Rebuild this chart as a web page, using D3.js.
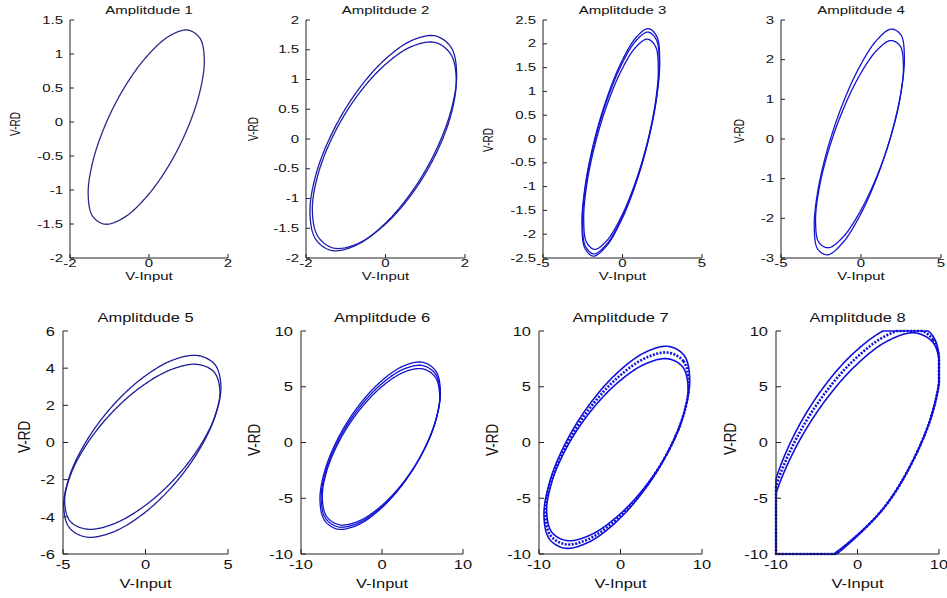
<!DOCTYPE html>
<html><head><meta charset="utf-8">
<script src="https://cdn.jsdelivr.net/npm/d3@7"></script>
<style>body{margin:0;background:#fff}svg text{font-family:"Liberation Sans",Arial,sans-serif;fill:#111}</style>
</head><body><svg id="c" width="947" height="598"></svg>
<script>
// ---------------- DATA ----------------
const titles = ["Amplitdude 1","Amplitdude 2","Amplitdude 3","Amplitdude 4","Amplitdude 5","Amplitdude 6","Amplitdude 7","Amplitdude 8"];
const xLabel = "V-Input";
const yLabel = "V-RD";
const xDomains = [[-2,2],[-2,2],[-5,5],[-5,5],[-5,5],[-10,10],[-10,10],[-10,10]];
const yDomains = [[-2,1.5],[-2,2],[-2.5,2.5],[-3,3],[-6,6],[-10,10],[-10,10],[-10,10]];
const xTickVals = [[-2,0,2],[-2,0,2],[-5,0,5],[-5,0,5],[-5,0,5],[-10,0,10],[-10,0,10],[-10,0,10]];
const yTickVals = [
  [-2,-1.5,-1,-0.5,0,0.5,1,1.5],
  [-2,-1.5,-1,-0.5,0,0.5,1,1.5,2],
  [-2.5,-2,-1.5,-1,-0.5,0,0.5,1,1.5,2,2.5],
  [-3,-2,-1,0,1,2,3],
  [-6,-4,-2,0,2,4,6],
  [-10,-5,0,5,10],
  [-10,-5,0,5,10],
  [-10,-5,0,5,10]
];

// loops: [V-Input, V-RD] points read around each hysteresis loop
const amp1Loop = [[1.40,0.915],[1.288,1.234],[0.969,1.353],[0.493,1.256],[-0.07,0.955],[-0.633,0.498],[-1.109,-0.047],[-1.428,-0.596],[-1.54,-1.065],[-1.428,-1.384],[-1.109,-1.503],[-0.633,-1.406],[-0.07,-1.105],[0.493,-0.648],[0.969,-0.103],[1.288,0.446]];

const amp2Outer = [[1.79,1.10],[1.65,1.54],[1.249,1.733],[0.652,1.653],[-0.055,1.31],[-0.762,0.757],[-1.359,0.079],[-1.76,-0.622],[-1.90,-1.24],[-1.76,-1.68],[-1.359,-1.873],[-0.762,-1.793],[-0.055,-1.45],[0.652,-0.897],[1.249,-0.219],[1.65,0.482]];
const amp2Inner = [[1.78,0.995],[1.642,1.425],[1.25,1.622],[0.663,1.556],[-0.03,1.237],[-0.723,0.714],[-1.31,0.066],[-1.702,-0.607],[-1.84,-1.205],[-1.702,-1.635],[-1.31,-1.832],[-0.723,-1.766],[-0.03,-1.447],[0.663,-0.924],[1.25,-0.276],[1.642,0.397]];

const amp3Outer = [[2.34,1.65],[2.154,2.155],[1.624,2.32],[0.831,2.123],[-0.105,1.59],[-1.041,0.805],[-1.834,-0.112],[-2.364,-1.023],[-2.55,-1.79],[-2.364,-2.295],[-1.834,-2.46],[-1.041,-2.263],[-0.105,-1.73],[0.831,-0.945],[1.624,-0.028],[2.154,0.883]];
const amp3Middle = [[2.31,1.593],[2.127,2.086],[1.604,2.246],[0.822,2.054],[-0.102,1.535],[-1.025,0.769],[-1.807,-0.124],[-2.33,-1.012],[-2.513,-1.76],[-2.33,-2.252],[-1.807,-2.413],[-1.025,-2.221],[-0.102,-1.701],[0.822,-0.936],[1.604,-0.042],[2.127,0.846]];
const amp3Inner = [[2.25,1.48],[2.072,1.947],[1.563,2.099],[0.803,1.916],[-0.095,1.424],[-0.993,0.698],[-1.753,-0.149],[-2.262,-0.991],[-2.44,-1.70],[-2.262,-2.167],[-1.753,-2.319],[-0.993,-2.136],[-0.095,-1.644],[0.803,-0.918],[1.563,-0.071],[2.072,0.771]];

const amp4Outer = [[2.71,2.065],[2.496,2.624],[1.885,2.77],[0.973,2.486],[-0.105,1.809],[-1.183,0.846],[-2.095,-0.256],[-2.706,-1.33],[-2.92,-2.215],[-2.706,-2.774],[-2.095,-2.92],[-1.183,-2.636],[-0.105,-1.959],[0.973,-0.996],[1.885,0.106],[2.496,1.18]];
const amp4Inner = [[2.65,1.835],[2.441,2.348],[1.846,2.481],[0.956,2.221],[-0.095,1.599],[-1.146,0.715],[-2.036,-0.297],[-2.631,-1.284],[-2.84,-2.095],[-2.631,-2.608],[-2.036,-2.741],[-1.146,-2.481],[-0.095,-1.859],[0.956,-0.975],[1.846,0.037],[2.441,1.024]];

const amp5Outer = [[4.57,3.033],[4.208,4.193],[3.174,4.679],[1.63,4.427],[-0.195,3.466],[-2.02,1.947],[-3.564,0.101],[-4.598,-1.791],[-4.96,-3.443],[-4.598,-4.603],[-3.564,-5.089],[-2.02,-4.837],[-0.195,-3.876],[1.63,-2.357],[3.174,-0.511],[4.208,1.381]];
const amp5Inner = [[4.51,2.77],[4.152,3.796],[3.131,4.205],[1.607,3.943],[-0.195,3.043],[-1.997,1.645],[-3.521,-0.037],[-4.542,-1.748],[-4.90,-3.23],[-4.542,-4.256],[-3.521,-4.665],[-1.997,-4.403],[-0.195,-3.503],[1.607,-2.105],[3.131,-0.423],[4.152,1.288]];

const amp6Outer = [[7.21,4.593],[6.645,6.406],[5.032,7.196],[2.623,6.853],[-0.225,5.418],[-3.073,3.117],[-5.482,0.298],[-7.095,-2.608],[-7.66,-5.163],[-7.095,-6.976],[-5.482,-7.766],[-3.073,-7.423],[-0.225,-5.988],[2.623,-3.687],[5.032,-0.868],[6.645,2.038]];
const amp6Middle = [[7.165,4.384],[6.607,6.138],[5.015,6.902],[2.637,6.57],[-0.175,5.182],[-2.987,2.956],[-5.365,0.229],[-6.957,-2.582],[-7.515,-5.054],[-6.957,-6.808],[-5.365,-7.572],[-2.987,-7.24],[-0.175,-5.852],[2.637,-3.626],[5.015,-0.899],[6.607,1.912]];
const amp6Inner = [[7.12,4.175],[6.569,5.87],[4.997,6.608],[2.65,6.287],[-0.125,4.946],[-2.90,2.795],[-5.247,0.16],[-6.819,-2.556],[-7.37,-4.945],[-6.819,-6.64],[-5.247,-7.378],[-2.90,-7.057],[-0.125,-5.716],[2.65,-3.565],[4.997,-0.93],[6.569,1.786]];

const amp7Outer = [[8.49,5.731],[7.811,7.807],[5.871,8.621],[2.974,8.066],[-0.45,6.211],[-3.874,3.346],[-6.771,-0.091],[-8.711,-3.579],[-9.39,-6.591],[-8.711,-8.667],[-6.771,-9.481],[-3.874,-8.926],[-0.45,-7.071],[2.974,-4.206],[5.871,-0.769],[7.811,2.719]];
const amp7Middle = [[8.39,5.319],[7.721,7.292],[5.81,8.066],[2.956,7.539],[-0.418,5.776],[-3.791,3.053],[-6.645,-0.215],[-8.556,-3.531],[-9.225,-6.394],[-8.556,-8.367],[-6.645,-9.141],[-3.791,-8.614],[-0.418,-6.851],[2.956,-4.128],[5.81,-0.86],[7.721,2.456]];
const amp7Inner = [[8.29,4.907],[7.631,6.777],[5.748,7.511],[2.938,7.011],[-0.385,5.34],[-3.708,2.759],[-6.518,-0.339],[-8.401,-3.483],[-9.06,-6.197],[-8.401,-8.067],[-6.518,-8.801],[-3.708,-8.301],[-0.385,-6.63],[2.938,-4.049],[5.748,-0.951],[7.631,2.193]];

// amplitude 8 overdrives the ±10 V range: values beyond it saturate at the limit
const amp8Outer = [[10.1,6.8],[9.294,9.501],[6.994,10.671],[3.56,10.15],[-0.5,8.0],[-4.56,4.558],[-7.994,0.349],[-10.294,-3.989],[-11.1,-7.8],[-10.294,-10.501],[-7.994,-11.671],[-4.56,-10.75],[-0.5,-8.6],[3.56,-5.558],[6.994,-1.349],[9.294,2.989]];
const amp8Middle = [[10.1,6.648],[9.294,9.22],[6.994,10.251],[3.56,9.602],[-0.5,7.354],[-4.56,3.858],[-7.994,-0.351],[-10.294,-4.636],[-11.1,-8.348],[-10.294,-10.92],[-7.994,-11.951],[-4.56,-10.9],[-0.5,-8.65],[3.56,-5.558],[6.994,-1.349],[9.294,2.936]];
const amp8Inner = [[10.1,6.496],[9.294,8.939],[6.994,9.831],[3.56,9.054],[-0.5,6.707],[-4.56,3.158],[-7.994,-1.051],[-10.294,-5.283],[-11.1,-8.896],[-10.294,-11.339],[-7.994,-12.231],[-4.56,-11.05],[-0.5,-8.7],[3.56,-5.558],[6.994,-1.349],[9.294,2.883]];

const loopsByPanel = [
  [amp1Loop],
  [amp2Outer, amp2Inner],
  [amp3Outer, amp3Middle, amp3Inner],
  [amp4Outer, amp4Inner],
  [amp5Outer, amp5Inner],
  [amp6Outer, amp6Middle, amp6Inner],
  [amp7Outer, amp7Middle, amp7Inner],
  [amp8Outer, amp8Middle, amp8Inner]
];

// ---------------- LAYOUT ----------------
const layout = [
  {x0:70, x1:228, y0:20, y1:258, row:0, ylx:15,  yly:124, color:"#2a2a86"},
  {x0:306,x1:465, y0:20, y1:258, row:0, ylx:253, yly:129, color:"#1c1caa"},
  {x0:543,x1:702, y0:20, y1:258, row:0, ylx:488, yly:140, color:"#1414d0"},
  {x0:781,x1:941, y0:20, y1:258, row:0, ylx:739, yly:131, color:"#1414d0"},
  {x0:63, x1:228, y0:331,y1:554, row:1, ylx:24,  yly:437, color:"#1e1e9a"},
  {x0:301,x1:463, y0:331,y1:554, row:1, ylx:254, yly:440, color:"#1212d2"},
  {x0:539,x1:702, y0:331,y1:554, row:1, ylx:492, yly:440, color:"#1010dc"},
  {x0:776,x1:939, y0:331,y1:554, row:1, ylx:730, yly:439, color:"#1010d8"}
];
const rowStyle = [
  {fs:10, sx:1.5, titleY:14, tickDy:9, xlabY:280, ygap:7},
  {fs:13.5, sx:1.22, titleY:322, tickDy:15, xlabY:588, ygap:8}
];

const svg = d3.select("#c");
svg.append("rect").attr("width",947).attr("height",598).attr("fill","#fff");

function txt(g, s, x, y, rs, anchor){
  return g.append("text").text(s)
    .attr("font-size", rs.fs)
    .attr("text-anchor", anchor)
    .attr("transform", `translate(${x},${y}) scale(${rs.sx},1)`);
}

layout.forEach((L, i) => {
  const rs = rowStyle[L.row];
  const g = svg.append("g");
  const xs = d3.scaleLinear().domain(xDomains[i]).range([L.x0, L.x1]);
  const ys = d3.scaleLinear().domain(yDomains[i]).range([L.y1, L.y0]);

  const smooth = d3.line().x(d => xs(d[0])).y(d => ys(d[1]))
    .curve(d3.curveCatmullRomClosed.alpha(0.5));
  const poly = d3.line().curve(d3.curveLinearClosed);
  const lg = g.append("g");
  loopsByPanel[i].forEach((loop, k) => {
    const p = lg.append("path").attr("d", smooth(loop))
      .attr("fill","none").attr("stroke", L.color)
      .attr("stroke-width", i >= 6 ? 1.6 : 1.3)
      .attr("stroke-linejoin","round");
    // saturate the trace at the axis limits (as the recorder does)
    const node = p.node(), len = node.getTotalLength(), N = 500, pts = [];
    for (let j = 0; j < N; j++) {
      const q = node.getPointAtLength(len * j / N);
      pts.push([Math.max(L.x0, Math.min(L.x1, q.x)), Math.max(L.y0, Math.min(L.y1, q.y))]);
    }
    p.attr("d", poly(pts));
    if (i >= 6 && k === 1) p.attr("stroke-width", 2.6).attr("stroke-dasharray","2,1.5");
  });

  // axes (box off, ticks inward)
  const ax = g.append("g").attr("stroke","#222").attr("stroke-width",1).attr("fill","none");
  ax.append("line").attr("x1",L.x0).attr("x2",L.x0).attr("y1",L.y0).attr("y2",L.y1);
  ax.append("line").attr("x1",L.x0).attr("x2",L.x1).attr("y1",L.y1).attr("y2",L.y1);
  const tl = L.row === 0 ? 4 : 5;
  xTickVals[i].forEach(v => {
    ax.append("line").attr("x1",xs(v)).attr("x2",xs(v)).attr("y1",L.y1).attr("y2",L.y1 - tl);
    txt(g, String(v), xs(v), L.y1 + rs.tickDy, rs, "middle");
  });
  yTickVals[i].forEach(v => {
    ax.append("line").attr("x1",L.x0).attr("x2",L.x0 + tl).attr("y1",ys(v)).attr("y2",ys(v));
    txt(g, String(v), L.x0 - rs.ygap, ys(v) + rs.fs*0.35, rs, "end");
  });

  const cx = (L.x0 + L.x1) / 2;
  txt(g, titles[i], cx, rs.titleY, rs, "middle");
  txt(g, xLabel, cx, rs.xlabY, rs, "middle");
  g.append("text").text(yLabel).attr("font-size", rs.fs).attr("text-anchor","middle")
    .attr("transform", `translate(${L.ylx},${L.yly}) scale(${rs.sx},1) rotate(-90) translate(0,${rs.fs*0.35})`);
});
</script>
</body></html>
